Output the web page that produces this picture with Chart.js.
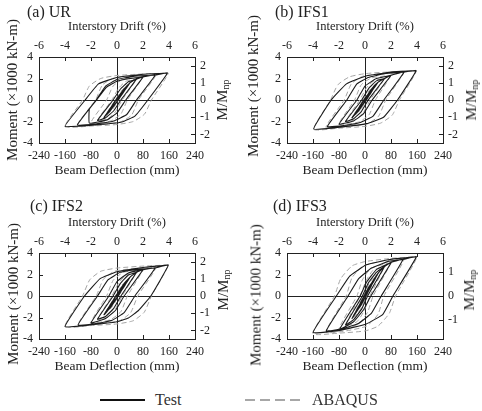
<!DOCTYPE html>
<html><head><meta charset="utf-8">
<script src="https://cdn.jsdelivr.net/npm/chart.js@4/dist/chart.umd.min.js"></script>
<style>
html,body{margin:0;padding:0;background:#fff;}
body{width:482px;height:411px;position:relative;overflow:hidden;font-family:"Liberation Serif","Times New Roman",serif;color:#222;}
canvas{position:absolute;}
.t{position:absolute;white-space:nowrap;line-height:1;}
.ttl{font-size:16px;transform:translate(0,-50%);}
.rot{transform:translate(-50%,-50%) rotate(-90deg);}
.lt{font-size:15px;}
.rt{font-size:15px;}
.rt sub{font-size:10px;vertical-align:-2px;}
.leg{font-size:16px;transform:translate(0,-50%);color:#333;}
</style></head><body>
<script>
// ---------- data ----------
const panelLabels = ['(a) UR', '(b) IFS1', '(c) IFS2', '(d) IFS3'];
const seriesNames = ['Test', 'ABAQUS'];
const deflectionTicks = [-240, -160, -80, 0, 80, 160, 240];
const driftTicks = [-6, -4, -2, 0, 2, 4, 6];
const momentTicks = [-4, -2, 0, 2, 4];
const ratioTicksABC = [-2, -1, 0, 1, 2];
const ratioTicksD = [-1, 0, 1];
const deflectionRange = [-240, 240];
const driftRange = [-6, 6];
const momentRange = [-4, 4];
const ratioRangeABC = [-2.5, 2.5];
const ratioRangeD = [-1.8, 1.8];

// beam deflection (mm), moment (x1000 kN-m)
const testUR = [[0,0],[20,0.85],[2,-0.05],[-20,-0.88],[-2,0.05],[20,0.85],
 [30,1.25],[4,0],[-12,-0.65],[-30,-1.28],[-4,0],[12,0.62],[30,1.25],
 [40,1.6],[3,0],[-18,-0.9],[-40,-1.62],[-3,0],[18,0.9],[40,1.6],
 [60,1.95],[12,0],[-10,-1.0],[-35,-1.65],[-60,-1.9],[-12,0],[10,1.0],[35,1.7],[60,1.95],
 [80,2.15],[27,0],[0,-1.2],[-30,-1.85],[-85,-2.15],[-85,-0.85],[-63,0],[-32,1.2],[0,1.75],[40,2.0],[80,2.15],
 [118,2.33],[60,0],[30,-1.35],[-10,-1.95],[-60,-2.2],[-122,-2.33],[-64,0],[-35,1.3],[0,1.9],[50,2.2],[118,2.33],
 [155,2.5],[95,0],[55,-1.5],[15,-2.05],[-60,-2.3],[-160,-2.45],[-98,0],[-57,1.5],[0,2.1],[80,2.4],[155,2.5]];
const abaqusUR = [[0,0],[40,1.6],[5,0],[-15,-0.9],[-40,-1.62],[-5,0],[15,0.9],[40,1.6],
 [60,1.95],[16,0],[-5,-1.1],[-28,-1.75],[-60,-1.9],[-16,0],[5,1.1],[28,1.75],[60,1.95],
 [80,2.15],[32,0],[12,-1.3],[-20,-1.95],[-80,-2.12],[-32,0],[-12,1.3],[20,1.95],[80,2.15],
 [120,2.35],[66,0],[45,-1.4],[10,-2.05],[-50,-2.28],[-122,-2.35],[-66,0],[-45,1.4],[-10,2.05],[50,2.28],[120,2.35],
 [158,2.5],[106,0],[85,-1.3],[50,-2.0],[0,-2.28],[-80,-2.42],[-160,-2.47],[-106,0],[-85,1.3],[-50,2.0],[0,2.28],[80,2.42],[158,2.5]];

const testIFS1 = [[0,0],[20,0.85],[2,-0.05],[-20,-0.88],[-2,0.05],[20,0.85],
 [30,1.28],[4,0],[-12,-0.65],[-30,-1.3],[-4,0],[12,0.65],[30,1.28],
 [40,1.65],[2,0],[-18,-0.95],[-40,-1.65],[-2,0],[18,0.95],[40,1.65],
 [60,2.0],[10,0],[-12,-1.1],[-35,-1.75],[-60,-2.0],[-10,0],[12,1.1],[35,1.78],[60,2.0],
 [80,2.3],[22,0],[-5,-1.3],[-35,-1.95],[-80,-2.25],[-25,0],[0,1.3],[35,2.0],[80,2.3],
 [120,2.6],[58,0],[25,-1.5],[-15,-2.1],[-60,-2.35],[-116,-2.48],[-56,0],[-25,1.5],[10,2.1],[60,2.45],[120,2.6],
 [157,2.72],[100,0],[57,-1.6],[5,-2.2],[-70,-2.5],[-158,-2.7],[-104,0],[-57,1.5],[5,2.25],[86,2.62],[157,2.72]];
const abaqusIFS1 = [[0,0],[40,1.65],[5,0],[-15,-0.95],[-40,-1.65],[-5,0],[15,0.95],[40,1.65],
 [60,2.0],[16,0],[-5,-1.15],[-28,-1.8],[-60,-2.0],[-16,0],[5,1.15],[28,1.8],[60,2.0],
 [80,2.3],[32,0],[12,-1.4],[-20,-2.05],[-80,-2.25],[-32,0],[-12,1.4],[20,2.05],[80,2.3],
 [120,2.6],[64,0],[42,-1.5],[8,-2.2],[-50,-2.45],[-120,-2.55],[-64,0],[-42,1.5],[-8,2.2],[50,2.45],[120,2.6],
 [158,2.72],[106,0],[84,-1.4],[48,-2.15],[0,-2.45],[-80,-2.62],[-158,-2.72],[-106,0],[-84,1.4],[-48,2.15],[0,2.45],[80,2.62],[158,2.72]];

const testIFS2 = [[0,0],[20,0.9],[2,-0.05],[-20,-0.92],[-2,0.05],[20,0.9],
 [30,1.35],[4,0],[-12,-0.7],[-30,-1.38],[-4,0],[12,0.7],[30,1.35],
 [40,1.75],[3,0],[-18,-1.0],[-40,-1.75],[-3,0],[18,1.0],[40,1.75],
 [60,2.2],[12,0],[-10,-1.15],[-35,-1.9],[-60,-2.15],[-12,0],[10,1.15],[35,1.95],[60,2.2],
 [80,2.45],[22,0],[-5,-1.35],[-35,-2.1],[-80,-2.5],[-25,0],[0,1.35],[35,2.15],[80,2.45],
 [117,2.6],[55,0],[22,-1.55],[-15,-2.25],[-60,-2.55],[-120,-2.7],[-60,0],[-28,1.5],[10,2.2],[60,2.48],[117,2.6],
 [158,2.88],[104,0],[66,-1.35],[35,-2.05],[0,-2.4],[-80,-2.68],[-160,-2.85],[-100,0],[-52,1.62],[0,2.25],[86,2.68],[158,2.88]];
const abaqusIFS2 = [[0,0],[40,1.75],[5,0],[-15,-1.0],[-40,-1.75],[-5,0],[15,1.0],[40,1.75],
 [60,2.2],[16,0],[-5,-1.2],[-28,-1.95],[-60,-2.2],[-16,0],[5,1.2],[28,1.95],[60,2.2],
 [80,2.45],[32,0],[12,-1.45],[-20,-2.2],[-80,-2.5],[-32,0],[-12,1.45],[20,2.2],[80,2.45],
 [120,2.65],[64,0],[42,-1.55],[8,-2.3],[-50,-2.55],[-120,-2.7],[-64,0],[-42,1.55],[-8,2.3],[50,2.55],[120,2.65],
 [158,2.88],[106,0],[84,-1.5],[50,-2.3],[0,-2.6],[-80,-2.75],[-160,-2.85],[-106,0],[-84,1.5],[-50,2.3],[0,2.6],[80,2.78],[158,2.88]];

const testIFS3 = [[0,0],[20,1.05],[2,-0.05],[-20,-1.05],[-2,0.05],[20,1.05],
 [30,1.6],[3,0],[-12,-0.85],[-30,-1.6],[-3,0],[12,0.85],[30,1.6],
 [40,2.1],[2,0],[-18,-1.1],[-40,-2.1],[-2,0],[18,1.1],[40,2.1],
 [60,2.75],[8,0],[-10,-1.2],[-35,-2.2],[-60,-2.7],[-8,0],[10,1.2],[35,2.2],[60,2.75],
 [81,3.14],[18,0],[-5,-1.3],[-35,-2.4],[-78,-3.1],[-15,0],[5,1.3],[35,2.45],[81,3.14],
 [117,3.4],[50,0],[20,-1.6],[-20,-2.55],[-70,-3.05],[-119,-3.23],[-52,0],[-20,1.6],[20,2.6],[70,3.2],[117,3.4],
 [158,3.65],[86,0],[55,-1.7],[4,-2.6],[-78,-3.2],[-160,-3.4],[-88,0],[-47,1.85],[4,2.9],[76,3.4],[158,3.65]];
const abaqusIFS3 = [[0,0],[40,2.1],[5,0],[-15,-1.3],[-40,-2.1],[-5,0],[15,1.3],[40,2.1],
 [60,2.75],[15,0],[-3,-1.4],[-25,-2.4],[-60,-2.75],[-15,0],[3,1.4],[25,2.4],[60,2.75],
 [80,3.1],[25,0],[8,-1.5],[-20,-2.6],[-80,-3.1],[-25,0],[-8,1.5],[20,2.6],[80,3.1],
 [120,3.4],[58,0],[40,-1.7],[5,-2.8],[-60,-3.25],[-120,-3.35],[-58,0],[-40,1.7],[-5,2.8],[60,3.3],[120,3.4],
 [160,3.65],[94,0],[75,-1.6],[40,-2.8],[0,-3.25],[-80,-3.45],[-160,-3.5],[-94,0],[-75,1.6],[-40,2.8],[0,3.2],[80,3.5],[160,3.65]];

// ---------- layout / style ----------
const FONT = '"Liberation Serif", "Times New Roman", serif';
const INK = '#222';
const panelBoxes = [
  {left: 0,   top: 0,   w: 241, h: 185, titleX: 27,  titleY: 12,  leftTitleX: 12,  leftTitleY: 90,  rightTitleX: 223, rightTitleY: 100},
  {left: 248, top: 0,   w: 234, h: 185, titleX: 275, titleY: 12,  leftTitleX: 253, leftTitleY: 86,  rightTitleX: 472, rightTitleY: 100},
  {left: 0,   top: 196, w: 241, h: 185, titleX: 30,  titleY: 206, leftTitleX: 13,  leftTitleY: 294, rightTitleX: 224, rightTitleY: 290},
  {left: 248, top: 196, w: 234, h: 185, titleX: 273, titleY: 206, leftTitleX: 256, leftTitleY: 295, rightTitleX: 470, rightTitleY: 290}
];
const panelData = [
  {test: testUR,   abaqus: abaqusUR,   ratioRange: ratioRangeABC, ratioTicks: ratioTicksABC},
  {test: testIFS1, abaqus: abaqusIFS1, ratioRange: ratioRangeABC, ratioTicks: ratioTicksABC},
  {test: testIFS2, abaqus: abaqusIFS2, ratioRange: ratioRangeABC, ratioTicks: ratioTicksABC},
  {test: testIFS3, abaqus: abaqusIFS3, ratioRange: ratioRangeD,   ratioTicks: ratioTicksD}
];

const innerTicks = {
  id: 'innerTicks',
  afterDraw(chart) {
    const {ctx, chartArea: a} = chart;
    ctx.save();
    ctx.strokeStyle = INK; ctx.lineWidth = 1;
    const L = 4;
    ctx.beginPath();
    ['x', 'x2', 'y', 'y2'].forEach(id => {
      const s = chart.scales[id];
      s.ticks.forEach(t => {
        const p = Math.round(s.getPixelForValue(t.value)) + 0.5;
        if (id === 'x') { ctx.moveTo(p, a.bottom); ctx.lineTo(p, a.bottom - L); }
        if (id === 'x2') { ctx.moveTo(p, a.top); ctx.lineTo(p, a.top + L); }
        if (id === 'y') { ctx.moveTo(a.left, p); ctx.lineTo(a.left + L, p); }
        if (id === 'y2') { ctx.moveTo(a.right, p); ctx.lineTo(a.right - L, p); }
      });
    });
    ctx.stroke();
    ctx.restore();
  }
};

function toXY(arr) { return arr.map(([x, y]) => ({x, y})); }
function setTicks(vals) { return s => { s.ticks = vals.map(v => ({value: v})); }; }
const zeroLine = c => (c.tick && c.tick.value === 0) ? INK : 'rgba(0,0,0,0)';

function addText(html, cls, x, y) {
  const d = document.createElement('div');
  d.className = 't ' + cls;
  d.innerHTML = html;
  d.style.left = x + 'px'; d.style.top = y + 'px';
  document.body.appendChild(d);
}

panelBoxes.forEach((b, i) => {
  const pd = panelData[i];
  const cv = document.createElement('canvas');
  cv.width = b.w; cv.height = b.h;
  cv.style.left = b.left + 'px'; cv.style.top = b.top + 'px';
  cv.style.width = b.w + 'px'; cv.style.height = b.h + 'px';
  document.body.appendChild(cv);
  const tickFont = {family: FONT, size: 12};
  new Chart(cv, {
    type: 'scatter',
    data: {
      datasets: [
        {label: seriesNames[0], data: toXY(pd.test), showLine: true, borderColor: '#1a1a1a', borderWidth: 1.1,
         pointRadius: 0, tension: 0.1, xAxisID: 'x', yAxisID: 'y'},
        {label: seriesNames[1], data: toXY(pd.abaqus), showLine: true, borderColor: '#a5a5a5', borderWidth: 1,
         borderDash: [5, 3], pointRadius: 0, tension: 0.18, xAxisID: 'x', yAxisID: 'y'}
      ]
    },
    options: {
      responsive: false, animation: false, devicePixelRatio: 1,
      layout: {padding: {top: 16, left: 0, right: 0, bottom: 0}},
      plugins: {legend: {display: false}, tooltip: {enabled: false}},
      scales: {
        x: {type: 'linear', position: 'bottom', min: deflectionRange[0], max: deflectionRange[1],
            afterBuildTicks: setTicks(deflectionTicks), afterFit: s => { s.height = 42; },
            grid: {display: true, drawTicks: false, color: zeroLine, lineWidth: 1},
            border: {display: true, color: INK, width: 1},
            ticks: {color: INK, font: tickFont, padding: 6, maxRotation: 0, autoSkip: false},
            title: {display: true, text: 'Beam Deflection (mm)', color: INK, font: {family: FONT, size: 13.5}, padding: {top: 0, bottom: 6}}},
        x2: {type: 'linear', position: 'top', min: driftRange[0], max: driftRange[1],
            afterBuildTicks: setTicks(driftTicks), afterFit: s => { s.height = 41; },
            grid: {display: false, drawTicks: false},
            border: {display: true, color: INK, width: 1},
            ticks: {color: INK, font: tickFont, padding: 4, maxRotation: 0, autoSkip: false},
            title: {display: true, text: 'Interstory Drift (%)', color: INK, font: {family: FONT, size: 12.5}, padding: {top: 3.5, bottom: 0}}},
        y: {type: 'linear', position: 'left', min: momentRange[0], max: momentRange[1],
            afterBuildTicks: setTicks(momentTicks), afterFit: s => { s.width = 39; },
            grid: {display: true, drawTicks: false, color: zeroLine, lineWidth: 1},
            border: {display: true, color: INK, width: 1},
            ticks: {color: INK, font: tickFont, padding: 6, autoSkip: false}},
        y2: {type: 'linear', position: 'right', min: pd.ratioRange[0], max: pd.ratioRange[1],
            afterBuildTicks: setTicks(pd.ratioTicks), afterFit: s => { s.width = b.w - 195; },
            grid: {display: false, drawTicks: false},
            border: {display: true, color: INK, width: 1},
            ticks: {color: INK, font: tickFont, padding: 5, autoSkip: false}}
      }
    },
    plugins: [innerTicks]
  });
  addText(panelLabels[i], 'ttl', b.titleX, b.titleY);
  addText('Moment (×1000 kN-m)', 'lt rot', b.leftTitleX, b.leftTitleY);
  addText('M/M<sub>np</sub>', 'rt rot', b.rightTitleX, b.rightTitleY);
});

// legend
const legSvg = document.createElementNS('http://www.w3.org/2000/svg', 'svg');
legSvg.setAttribute('width', '482'); legSvg.setAttribute('height', '20');
legSvg.style.position = 'absolute'; legSvg.style.left = '0px'; legSvg.style.top = '390px';
legSvg.innerHTML = '<line x1="100" y1="10" x2="145" y2="10" stroke="#111" stroke-width="2"/>' +
  '<line x1="245" y1="10" x2="300" y2="10" stroke="#8a8a8a" stroke-width="1.5" stroke-dasharray="10,5"/>';
document.body.appendChild(legSvg);
addText(seriesNames[0], 'leg', 155, 400);
addText(seriesNames[1], 'leg', 312, 400);
</script>
</body></html>
